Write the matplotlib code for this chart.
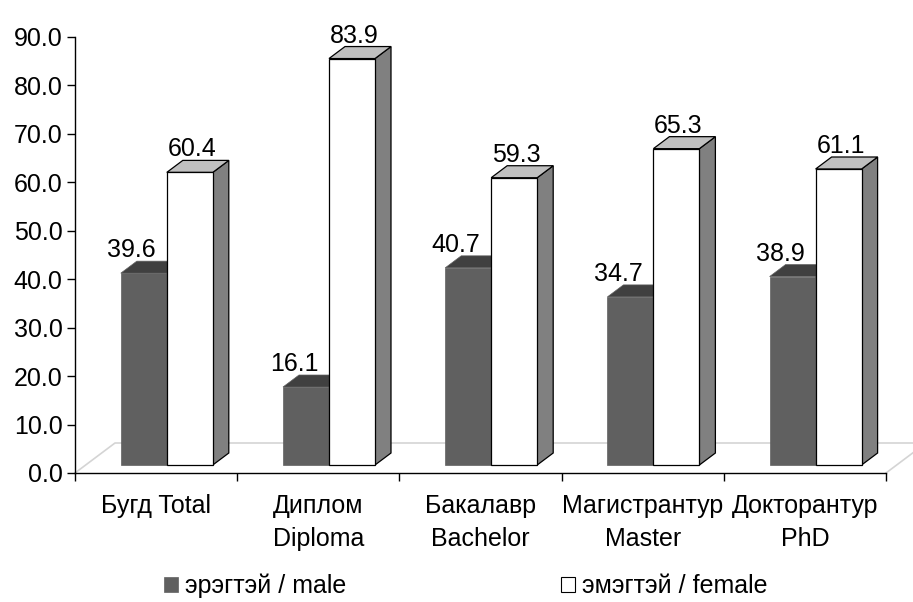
import matplotlib
matplotlib.use("Agg")
import matplotlib.pyplot as plt
from matplotlib.patches import Polygon, Patch

plt.rcParams["font.family"] = ["Liberation Sans", "DejaVu Sans"]

categories = ["Бугд Total", "Диплом\nDiploma", "Бакалавр\nBachelor",
              "Магистрантур\nMaster", "Докторантур\nPhD"]
male = [39.6, 16.1, 40.7, 34.7, 38.9]
female = [60.4, 83.9, 59.3, 65.3, 61.1]
series_names = ["эрэгтэй / male", "эмэгтэй / female"]
yticks = [0, 10, 20, 30, 40, 50, 60, 70, 80, 90]

FS = 18
FW, FH = 913, 602
fig = plt.figure(figsize=(FW / 100, FH / 100), dpi=100)
L, R, B, T = 75, 886, 473, 37
ax = fig.add_axes([L / FW, 1 - B / FH, (R - L) / FW, (B - T) / FH])
n = len(categories)
ax.set_xlim(-0.5, n - 0.5)
ax.set_ylim(0, 90)

px = n / (R - L)
py = 90 / (B - T)

# 3D geometry (pixels -> data)
fdx, fdy = 40 * px, 30 * py      # floor depth
ox, oy = 10.7 * px, 8 * py       # bar front offset
bdx, bdy = 16 * px, 12 * py      # bar depth
bw = 46 * px                     # bar width

# floor
floor_col = "#d4d4d4"
x0, x1 = -0.5, n - 0.5
ax.plot([x0, x0 + fdx, x1 + fdx, x1], [0, fdy, fdy, 0], color=floor_col,
        lw=1.2, clip_on=False, zorder=1)

male_cols = dict(front="#606060", top="#404040", side="#505050", edge="#606060", lw=0.5)
female_cols = dict(front="#ffffff", top="#c0c0c0", side="#808080", edge="#000000", lw=0.9)


def draw_bar(xl, h, c, z):
    xr = xl + bw
    yb, yt = oy, oy + h
    side = Polygon([(xr, yb), (xr + bdx, yb + bdy), (xr + bdx, yt + bdy), (xr, yt)],
                   closed=True, fc=c["side"], ec=c["edge"], lw=c["lw"], zorder=z, clip_on=False)
    top = Polygon([(xl, yt), (xr, yt), (xr + bdx, yt + bdy), (xl + bdx, yt + bdy)],
                  closed=True, fc=c["top"], ec=c["edge"], lw=c["lw"], zorder=z, clip_on=False)
    front = Polygon([(xl, yb), (xr, yb), (xr, yt), (xl, yt)],
                    closed=True, fc=c["front"], ec=c["edge"], lw=c["lw"], zorder=z, clip_on=False)
    for p in (side, top, front):
        ax.add_patch(p)


for i in range(n):
    xm = i + ox - bw
    xf = i + ox
    draw_bar(xm, male[i], male_cols, 3 + 2 * i)
    draw_bar(xf, female[i], female_cols, 4 + 2 * i)
    ax.text(xm + bw / 2 - 12 * px, oy + male[i] + bdy + 4 * py, f"{male[i]:.1f}",
            ha="center", va="baseline", fontsize=FS, zorder=20)
    ax.text(xf + bw / 2 + 2 * px, oy + female[i] + bdy + 4 * py, f"{female[i]:.1f}",
            ha="center", va="baseline", fontsize=FS, zorder=20)

# axes styling
for s in ("top", "right"):
    ax.spines[s].set_visible(False)
for s in ("left", "bottom"):
    ax.spines[s].set_linewidth(1.0)
    ax.spines[s].set_zorder(2)

ax.set_yticks(yticks)
ax.set_yticklabels([f"{v:.1f}" for v in yticks])
ax.tick_params(axis="y", direction="out", length=6, width=1, labelsize=FS, pad=3)

ax.set_xticks(range(n))
ax.set_xticklabels(categories, linespacing=1.5)
ax.set_xticks([k - 0.5 for k in range(n + 1)], minor=True)
ax.tick_params(axis="x", which="major", length=0, labelsize=FS, pad=15)
ax.tick_params(axis="x", which="minor", direction="out", length=6, width=1)
ax.patch.set_visible(False)

handles = [Patch(fc=male_cols["front"], ec=male_cols["front"], lw=0.5),
           Patch(fc="white", ec="black", lw=0.8)]
fig.legend(handles, series_names, loc="center", bbox_to_anchor=(466 / FW, 1 - 586 / FH),
           ncol=2, frameon=False, fontsize=FS, handlelength=0.55, handleheight=0.55,
           handletextpad=0.28, columnspacing=8.6, borderaxespad=0, borderpad=0)

fig.savefig("out.png", dpi=100)
